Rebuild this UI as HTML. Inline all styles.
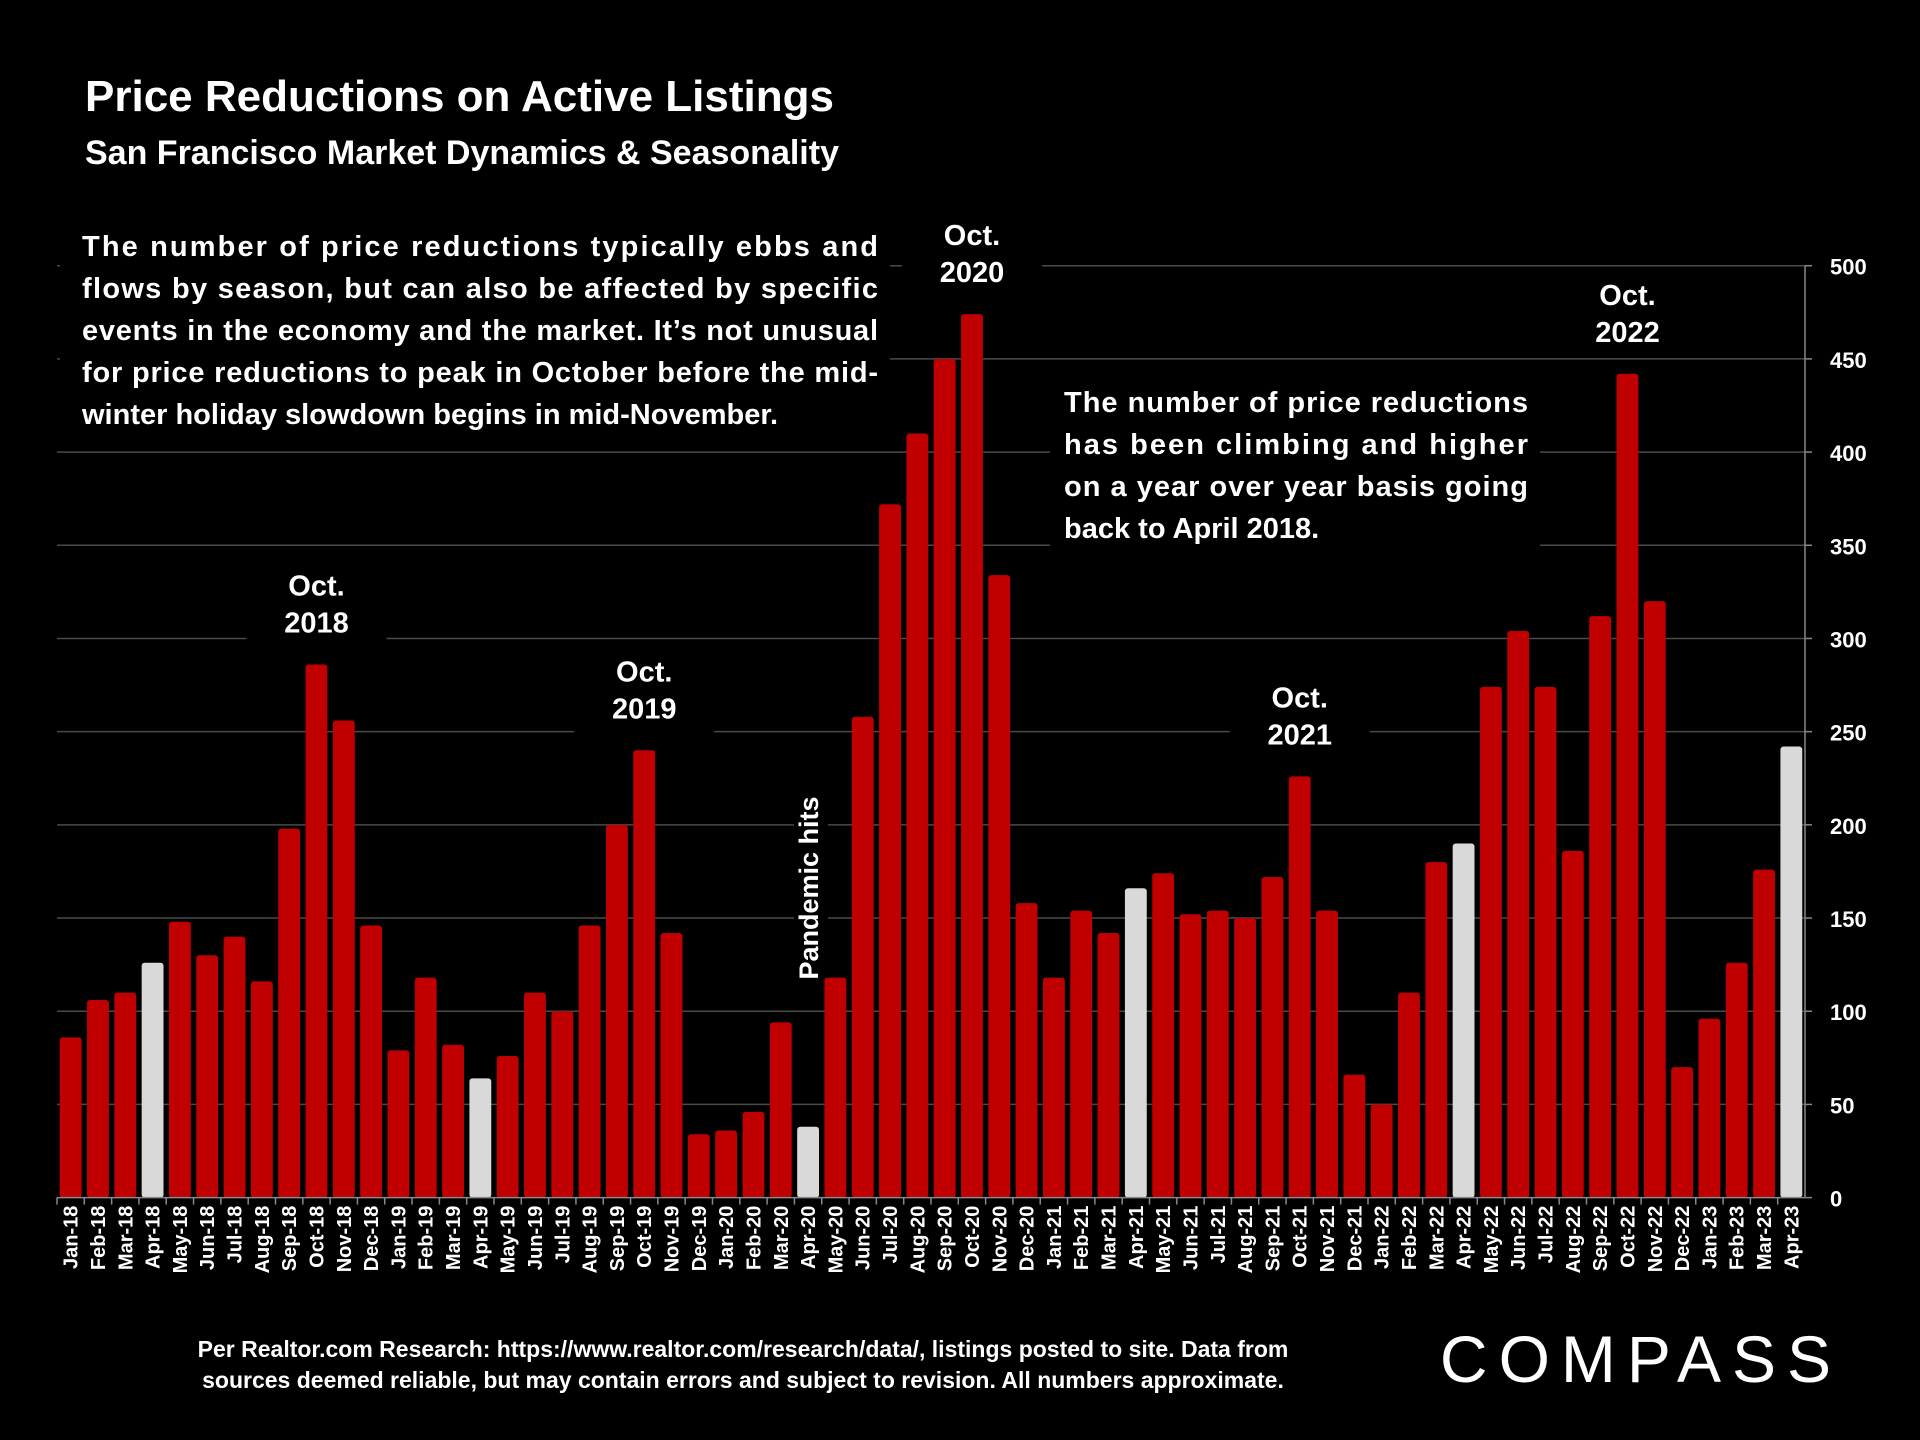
<!DOCTYPE html>
<html><head><meta charset="utf-8"><style>
html,body{margin:0;padding:0;background:#000;}
svg{display:block;font-family:"Liberation Sans",Arial,sans-serif;}
</style></head><body>
<svg id="chart" width="1920" height="1440" viewBox="0 0 1920 1440" xmlns="http://www.w3.org/2000/svg">
<rect width="1920" height="1440" fill="#000"/>
<g id="grid"></g>
<g id="bars"></g>
<g id="axes"></g>
<text x="85" y="111" fill="#fff" font-size="44" font-weight="bold">Price Reductions on Active Listings</text>
<text x="85" y="164" fill="#fff" font-size="34" font-weight="bold">San Francisco Market Dynamics &amp; Seasonality</text>
<rect x="60" y="222" width="830" height="215" fill="#000"/>
<g fill="#fff" font-size="29" font-weight="bold">
<text x="82" y="256" textLength="796" lengthAdjust="spacing">The number of price reductions typically ebbs and</text>
<text x="82" y="298" textLength="796" lengthAdjust="spacing">flows by season, but can also be affected by specific</text>
<text x="82" y="340" textLength="796" lengthAdjust="spacing">events in the economy and the market. It’s not unusual</text>
<text x="82" y="382" textLength="796" lengthAdjust="spacing">for price reductions to peak in October before the mid-</text>
<text x="82" y="424">winter holiday slowdown begins in mid-November.</text>
</g>
<rect x="1050" y="370" width="490" height="180" fill="#000"/>
<g fill="#fff" font-size="29" font-weight="bold">
<text x="1064" y="412" textLength="464" lengthAdjust="spacing">The number of price reductions</text>
<text x="1064" y="454" textLength="464" lengthAdjust="spacing">has been climbing and higher</text>
<text x="1064" y="496" textLength="464" lengthAdjust="spacing">on a year over year basis going</text>
<text x="1064" y="538">back to April 2018.</text>
</g>
<g id="ann" font-size="29" font-weight="bold" fill="#fff" text-anchor="middle"></g>
<g transform="translate(818,888) rotate(-90)">
<rect x="-90" y="-24" width="180" height="34" fill="#000"/>
<text x="0" y="0" fill="#fff" font-size="27" font-weight="bold" text-anchor="middle">Pandemic hits</text>
</g>
<g fill="#fff" font-size="23" font-weight="bold" text-anchor="middle">
<text x="743" y="1357">Per Realtor.com Research:  https://www.realtor.com/research/data/, listings posted to site. Data from</text>
<text x="743" y="1388">sources deemed reliable, but may contain errors and subject to revision. All numbers approximate.</text>
</g>
<text x="1641" y="1382" fill="#fff" font-size="66" text-anchor="middle" letter-spacing="11">COMPASS</text>
</svg>
<script>
const categories=["Jan-18","Feb-18","Mar-18","Apr-18","May-18","Jun-18","Jul-18","Aug-18","Sep-18","Oct-18","Nov-18","Dec-18","Jan-19","Feb-19","Mar-19","Apr-19","May-19","Jun-19","Jul-19","Aug-19","Sep-19","Oct-19","Nov-19","Dec-19","Jan-20","Feb-20","Mar-20","Apr-20","May-20","Jun-20","Jul-20","Aug-20","Sep-20","Oct-20","Nov-20","Dec-20","Jan-21","Feb-21","Mar-21","Apr-21","May-21","Jun-21","Jul-21","Aug-21","Sep-21","Oct-21","Nov-21","Dec-21","Jan-22","Feb-22","Mar-22","Apr-22","May-22","Jun-22","Jul-22","Aug-22","Sep-22","Oct-22","Nov-22","Dec-22","Jan-23","Feb-23","Mar-23","Apr-23"];
const values=[86,106,110,126,148,130,140,116,198,286,256,146,79,118,82,64,76,110,100,146,200,240,142,34,36,46,94,38,118,258,372,410,450,474,334,158,118,154,142,166,174,152,154,150,172,226,154,66,50,110,180,190,274,304,274,186,312,442,320,70,96,126,176,242];
const yTicks=[0,50,100,150,200,250,300,350,400,450,500];
const annotations=[["Oct-18","2018"],["Oct-19","2019"],["Oct-20","2020"],["Oct-21","2021"],["Oct-22","2022"]];
const NS="http://www.w3.org/2000/svg";
const x0=57,x1=1805,y0=1197.6,yTop=265.7;
const step=(x1-x0)/categories.length;
function xs(i){return x0+step*(i+0.5);}
function ys(v){return y0-(v/500)*(y0-yTop);}
function mk(t,a,p){const e=document.createElementNS(NS,t);for(const k in a)e.setAttribute(k,a[k]);p.appendChild(e);return e;}
const grid=document.getElementById('grid'),bars=document.getElementById('bars'),axes=document.getElementById('axes'),ann=document.getElementById('ann');
yTicks.forEach(v=>{
 if(v>0){const l=mk('line',{x1:x0,x2:x1,y1:ys(v),y2:ys(v),stroke:'#4a4a4a','stroke-width':1.5},grid);
 
 }
 const t=mk('text',{x:1830,y:ys(v)+9,fill:'#fff','font-size':22,'font-weight':'bold'},axes);
 t.textContent=v;
 
 
 mk('line',{x1:x1,x2:x1+7,y1:ys(v),y2:ys(v),stroke:'#888','stroke-width':1.5},axes);
});
mk('line',{x1:x1,x2:x1,y1:yTop,y2:y0,stroke:'#888','stroke-width':1.5},axes);
mk('line',{x1:x0,x2:x1,y1:y0,y2:y0,stroke:'#888','stroke-width':1.5},axes);
const bw=step*0.8;
categories.forEach((c,i)=>{
 const white=c.startsWith('Apr');
 const r=mk('rect',{x:xs(i)-bw/2,y:ys(values[i]),width:bw,height:y0-ys(values[i]),fill:white?'#d9d9d9':'#c00000',rx:3},bars);
 
 
 mk('line',{x1:x0+step*i,x2:x0+step*i,y1:y0,y2:y0+7,stroke:'#888','stroke-width':1.5},axes);
 const t=mk('text',{transform:`translate(${xs(i)+7},${y0+8}) rotate(-90)`,fill:'#fff','font-size':20,'font-weight':'bold','text-anchor':'end'},axes);
 t.textContent=c;
 
 
});
annotations.forEach(([c,yr])=>{
 const i=categories.indexOf(c);const top=ys(values[i])-32;
 const g=mk('g',{},ann);
 
 
 mk('rect',{x:xs(i)-70,y:top-70,width:140,height:86,fill:'#000'},g);
 const a=mk('text',{x:xs(i),y:top-37},g);a.textContent='Oct.';
 const b=mk('text',{x:xs(i),y:top},g);b.textContent=yr;
});
</script>
</body></html>
